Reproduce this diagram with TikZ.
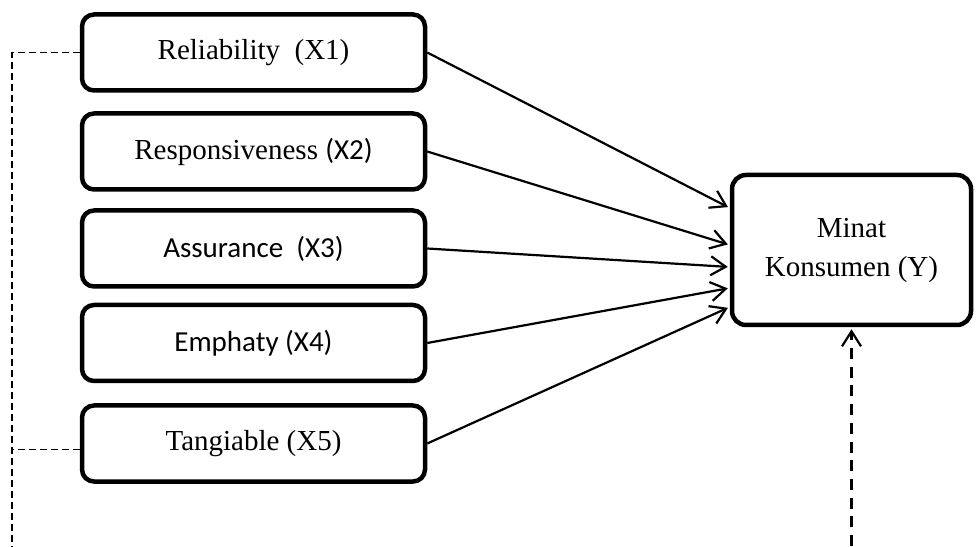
\documentclass[tikz,border=0pt]{standalone}
\usepackage{fontspec}
\setmainfont{Liberation Serif}
\newfontfamily\calibri{Carlito}
\usetikzlibrary{arrows.meta}
\begin{document}
\begin{tikzpicture}[x=1pt,y=1pt,
  varbox/.style={draw, line width=4.5pt, rounded corners=12pt, minimum width=343pt, minimum height=76pt, inner sep=0pt, align=center, font=\fontsize{29}{39}\selectfont},
  ybox/.style={draw, line width=4.5pt, rounded corners=14pt, minimum width=239pt, minimum height=150pt, inner sep=0pt, align=center, font=\fontsize{29}{39}\selectfont},
  link/.style={line width=2.2pt, -{Straight Barb[length=15pt,width=19pt]}, shorten >=2pt},
  thindash/.style={line width=1.8pt, dash pattern=on 7pt off 4pt},
  thickdash/.style={line width=2.8pt, dash pattern=on 11pt off 7.7pt}
]
\useasboundingbox (0,0) rectangle (976,546);
\node[varbox] (b1) at (253.5,493.5) {Reliability\ \ (X1)};
\node[varbox] (b2) at (253.5,394.5) {Responsiveness {\calibri(X2)}};
\node[varbox] (b3) at (253.5,297.5) {\calibri Assurance\ \ (X3)};
\node[varbox] (b4) at (253.5,203) {\calibri Emphaty (X4)};
\node[varbox] (b5) at (253.5,102.5) {Tangiable (X5)};
\node[ybox] (y) at (851.5,296) {Minat\\Konsumen (Y)};

\draw[link] (b1.east) -- ([yshift=42pt]y.west);
\draw[link] (b2.east) -- ([yshift=5pt]y.west);
\draw[link] (b3.east) -- ([yshift=-17pt]y.west);
\draw[link] (b4.east) -- ([yshift=-38pt]y.west);
\draw[link] (b5.east) -- ([yshift=-57pt]y.west);

\coordinate (lb) at (12,0);
\coordinate (yb) at (851.5,0);
\draw[thindash] (b1.west) -| (lb);
\draw[thindash] ([yshift=-6pt]b5.west) -- ([yshift=-6pt]b5.west -| lb);
\draw[thickdash, -{Straight Barb[length=15pt,width=19pt,line width=2.2pt]}, shorten >=2pt] (yb) -- (y.south);
\end{tikzpicture}
\end{document}
